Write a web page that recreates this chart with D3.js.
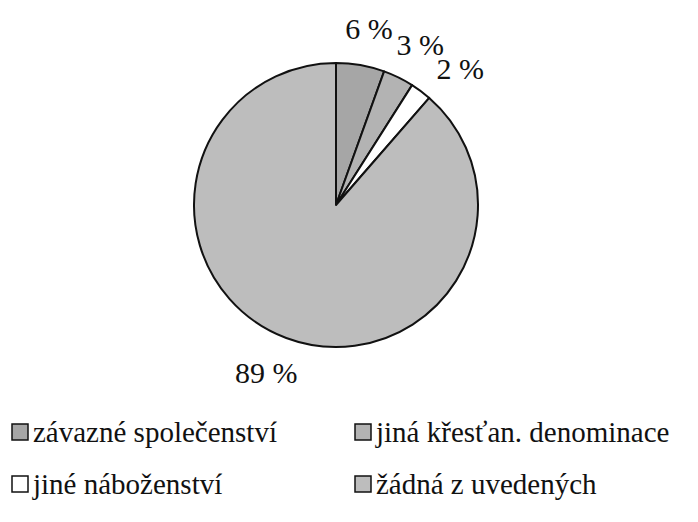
<!DOCTYPE html>
<html><head><meta charset="utf-8">
<script src="https://cdn.jsdelivr.net/npm/d3@7"></script>
<style>body{margin:0;background:#fff}svg{display:block}</style>
</head><body><div id="c"></div>
<script>
const categories = ["závazné společenství","jiná křesťan. denominace","jiné náboženství","žádná z uvedených"];
const values = [5.5, 3.5, 2.4, 88.6];
const labels = ["6 %","3 %","2 %","89 %"];
const colors = ["#a6a6a6","#b3b3b3","#ffffff","#bdbdbd"];

const FONT="'Liberation Serif'";
const W=698,H=522, cx=336, cy=205, r=142;
const svg=d3.select("#c").append("svg").attr("width",W).attr("height",H);
const pie=d3.pie().sort(null).value(d=>d)(values);
const arc=d3.arc().innerRadius(0).outerRadius(r);
const g=svg.append("g").attr("transform",`translate(${cx},${cy})`);
g.selectAll("path").data(pie).join("path").attr("d",arc)
 .attr("fill",(d,i)=>colors[i]).attr("stroke","#111").attr("stroke-width",2).attr("stroke-linejoin","round");

const R=r+26, fs=30;
const boxes=[];
g.selectAll("text.lbl").data(pie).join("text").attr("class","lbl")
 .style("font-family",FONT).attr("font-size",fs).attr("fill","#111")
 .attr("text-anchor","middle").attr("dominant-baseline","central")
 .text((d,i)=>labels[i])
 .each(function(d){
   const a=(d.startAngle+d.endAngle)/2;
   const w=this.getComputedTextLength(), h=fs*0.75;
   let x=R*Math.sin(a)+Math.sin(a)*w/2, y=-R*Math.cos(a)-Math.cos(a)*h/2;
   const bh=fs*0.8;
   const hit=()=>boxes.some(b=>Math.abs(b.x-x)<(b.w+w)/2+2 && Math.abs(b.y-y)<(b.h+bh)/2);
   let k=0;
   while(hit() && k<200){ x+=Math.cos(a); y+=Math.sin(a); k++; }
   boxes.push({x,y,w,h:bh});
   d3.select(this).attr("x",x).attr("y",y);
 });

const cols=d3.scaleOrdinal().domain([0,1]).range([12,355]);
const rows=d3.scaleOrdinal().domain([0,1]).range([432,484]);
const lg=svg.append("g");
categories.forEach((c,i)=>{
  const x=cols(i%2), y=rows(Math.floor(i/2));
  lg.append("rect").attr("x",x).attr("y",y-8).attr("width",16).attr("height",16)
    .attr("fill",colors[i]).attr("stroke","#111").attr("stroke-width",1.5);
  lg.append("text").attr("x",x+21).attr("y",y).attr("dominant-baseline","central")
    .style("font-family",FONT).attr("font-size",29).attr("fill","#111").text(c);
});
</script></body></html>
